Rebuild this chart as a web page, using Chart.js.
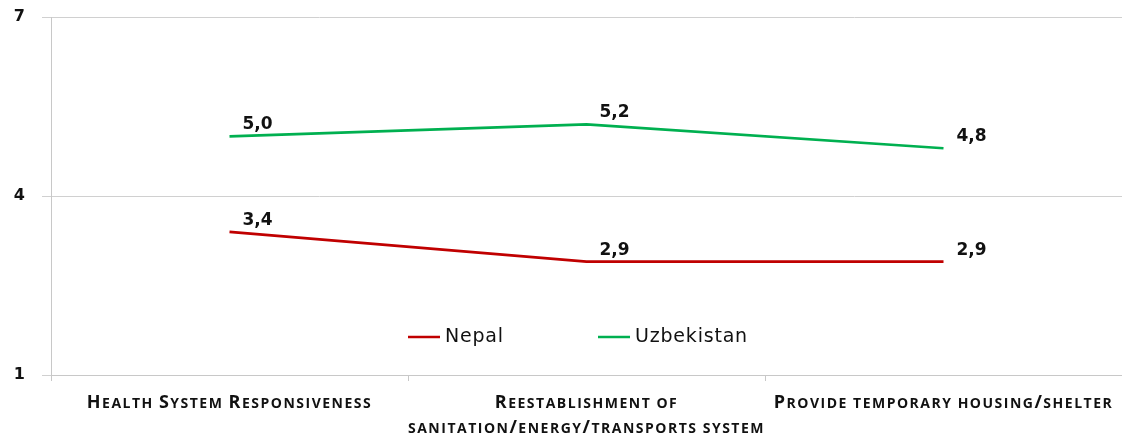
<!DOCTYPE html>
<html lang="en">
<head>
  <meta charset="UTF-8">
  <title>Nepal vs Uzbekistan</title>
  <script src="https://cdn.jsdelivr.net/npm/chart.js"></script>
  <style>
    html, body {
      margin: 0;
      padding: 0;
      background: #fff;
    }
    #wrap {
      width: 1122px;
      height: 437px;
    }
  </style>
</head>
<body>
  <div id="wrap">
    <canvas id="chart" width="1122" height="437"></canvas>
  </div>

  <script>
    const categories = [
      ['Health System Responsiveness'],
      ['Reestablishment of', 'sanitation/energy/transports system'],
      ['Provide temporary housing/shelter']
    ];
    const nepal = [3.4, 2.9, 2.9];
    const uzbekistan = [5.0, 5.2, 4.8];
    const yTicks = [1, 4, 7];

    // value labels above-right of each point, comma decimal
    const valueLabels = {
      id: 'valueLabels',
      afterDatasetsDraw(chart) {
        const ctx = chart.ctx;
        ctx.save();
        ctx.font = 'bold 17px "DejaVu Sans"';
        ctx.fillStyle = '#111';
        ctx.textAlign = 'left';
        ctx.textBaseline = 'alphabetic';
        chart.data.datasets.forEach((ds, i) => {
          chart.getDatasetMeta(i).data.forEach((pt, j) => {
            const txt = ds.data[j].toFixed(1).replace('.', ',');
            ctx.fillText(txt, pt.x + 13, pt.y - 7);
          });
        });
        ctx.restore();
      }
    };

    // split a string into runs of capitals / lowercase for hand-made small caps
    function capsRuns(str) {
      const runs = [];
      for (const ch of str) {
        const big = ch !== ch.toLowerCase() || ch === '/';
        const last = runs[runs.length - 1];
        if (last && last.big === big) last.text += ch;
        else runs.push({ big, text: ch });
      }
      return runs.map(r => ({ big: r.big, text: r.text.toUpperCase() }));
    }

    // category labels in small caps under the axis
    const smallCapsTicks = {
      id: 'smallCapsTicks',
      afterDraw(chart) {
        const ctx = chart.ctx;
        const x = chart.scales.x;
        const bigFont = 'bold 18px "Open Sans"';
        const smallFont = 'bold 14px "Open Sans"';
        ctx.save();
        ctx.fillStyle = '#111';
        ctx.textAlign = 'left';
        ctx.textBaseline = 'alphabetic';
        ctx.letterSpacing = '1.5px';
        categories.forEach((lines, i) => {
          const cx = x.getPixelForValue(i);
          lines.forEach((line, k) => {
            const runs = capsRuns(line);
            let w = 0;
            runs.forEach(r => {
              ctx.font = r.big ? bigFont : smallFont;
              r.w = ctx.measureText(r.text).width;
              w += r.w;
            });
            let px = cx - w / 2;
            const py = x.top + 33 + k * 25;
            runs.forEach(r => {
              ctx.font = r.big ? bigFont : smallFont;
              ctx.fillText(r.text, px, py);
              px += r.w;
            });
          });
        });
        ctx.restore();
      }
    };

    // legend drawn inside the plot area
    const innerLegend = {
      id: 'innerLegend',
      afterDraw(chart) {
        const ctx = chart.ctx;
        const area = chart.chartArea;
        const y = area.bottom - 38;
        const starts = [408, 598];
        ctx.save();
        ctx.font = '19px "DejaVu Sans"';
        ctx.letterSpacing = '0.8px';
        ctx.textBaseline = 'middle';
        ctx.textAlign = 'left';
        chart.data.datasets.forEach((ds, i) => {
          const sx = starts[i];
          ctx.strokeStyle = ds.borderColor;
          ctx.lineWidth = 2.5;
          ctx.beginPath();
          ctx.moveTo(sx, y);
          ctx.lineTo(sx + 32, y);
          ctx.stroke();
          ctx.fillStyle = '#111';
          ctx.fillText(ds.label, sx + 37, y);
        });
        ctx.restore();
      }
    };

    new Chart(document.getElementById('chart'), {
      type: 'line',
      data: {
        labels: categories.map(c => c.join(' ')),
        datasets: [
          {
            label: 'Nepal',
            data: nepal,
            borderColor: '#C00000',
            backgroundColor: '#C00000',
            borderWidth: 2.7,
            pointRadius: 0,
            tension: 0
          },
          {
            label: 'Uzbekistan',
            data: uzbekistan,
            borderColor: '#00B050',
            backgroundColor: '#00B050',
            borderWidth: 2.7,
            pointRadius: 0,
            tension: 0
          }
        ]
      },
      options: {
        responsive: false,
        animation: false,
        layout: { padding: { top: 17, right: 0, left: 0, bottom: 0 } },
        plugins: {
          legend: { display: false },
          tooltip: { enabled: false }
        },
        scales: {
          x: {
            offset: true,
            afterFit(scale) {
              scale.height = 62;
              scale.paddingLeft = 0;
              scale.paddingRight = 0;
            },
            grid: {
              offset: true,
              drawOnChartArea: false,
              drawTicks: true,
              tickLength: 6,
              color: '#C8C8C8'
            },
            border: { color: '#C8C8C8' },
            ticks: { display: false }
          },
          y: {
            min: 1,
            max: 7,
            afterFit(scale) {
              scale.width = 51;
              scale.paddingTop = 0;
              scale.paddingBottom = 0;
            },
            afterBuildTicks(scale) {
              scale.ticks = yTicks.map(v => ({ value: v }));
            },
            grid: {
              color: '#D0D0D0',
              tickLength: 9
            },
            border: { color: '#C8C8C8' },
            ticks: {
              padding: 17,
              color: '#111',
              font: { family: 'DejaVu Sans', weight: 'bold', size: 16 }
            }
          }
        }
      },
      plugins: [valueLabels, smallCapsTicks, innerLegend]
    });
  </script>
</body>
</html>
